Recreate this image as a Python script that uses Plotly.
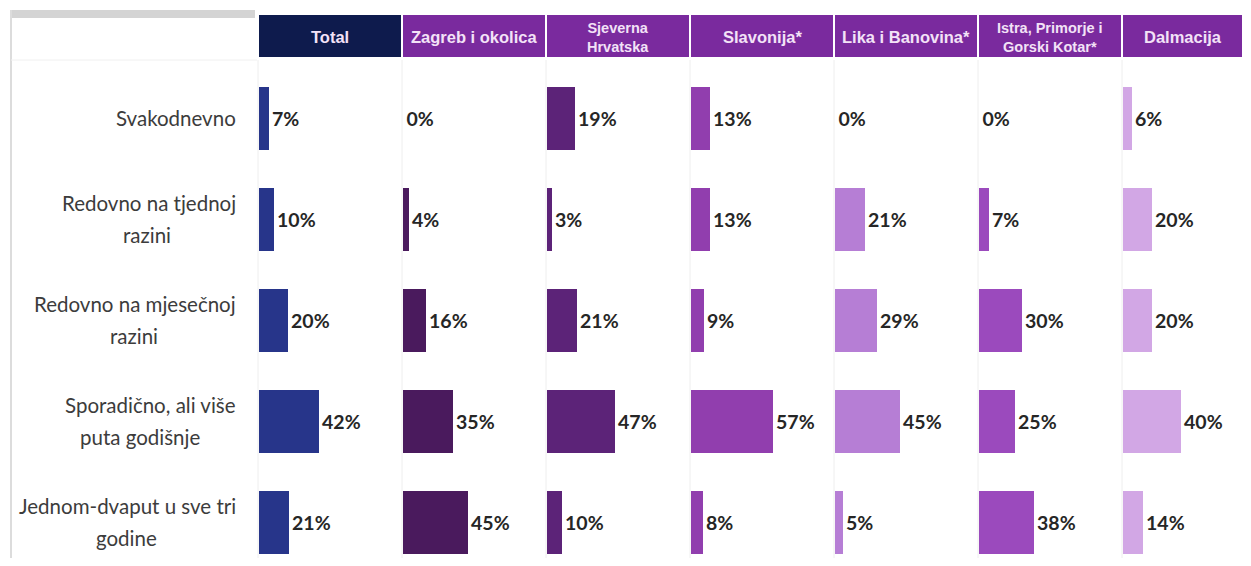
import plotly.graph_objects as go

# Page body has an 8px margin; figure is sized to fit inside the window.
OFF = 8
WIN_W, WIN_H = 1251, 566
FW, FH = WIN_W - 2 * OFF, WIN_H - 2 * OFF

categories = [
    "Svakodnevno",
    "Redovno na tjednoj<br>razini",
    "Redovno na mjesečnoj<br>razini",
    "Sporadično, ali više<br>puta godišnje",
    "Jednom-dvaput u sve tri<br>godine",
]
regions = ["Total", "Zagreb i okolica", "Sjeverna<br>Hrvatska", "Slavonija*",
           "Lika i Banovina*", "Istra, Primorje i<br>Gorski Kotar*", "Dalmacija"]

total = [7, 10, 20, 42, 21]
zagreb = [0, 4, 16, 35, 45]
sjeverna = [19, 3, 21, 47, 10]
slavonija = [13, 13, 9, 57, 8]
lika = [0, 21, 29, 45, 5]
istra = [0, 7, 30, 25, 38]
dalmacija = [6, 20, 20, 40, 14]

series = [total, zagreb, sjeverna, slavonija, lika, istra, dalmacija]
bar_colors = ["#27358a", "#4a1a5d", "#5c2378", "#913eae", "#b67ed5", "#9b4abd", "#d2a7e5"]
header_colors = ["#0e1b4d"] + ["#7a2a9e"] * 6


def px(x):
    return (x - OFF) / FW


def py(y):
    return 1 - (y - OFF) / FH


col_left = 258
col_w = 144
px_per_pct = 1.43

fig = go.Figure()
layout_axes = {}
ypos = list(range(len(categories)))

for i, vals in enumerate(series):
    x0 = col_left + i * col_w
    x1 = min(x0 + col_w, WIN_W - OFF)
    xname = "x" if i == 0 else f"x{i+1}"
    axkey = "xaxis" if i == 0 else f"xaxis{i+1}"
    fig.add_trace(go.Bar(
        x=vals, y=ypos, orientation="h",
        xaxis=xname, yaxis="y",
        width=0.63,
        marker=dict(color=bar_colors[i], line=dict(width=0)),
        text=[f"{v}%" for v in vals],
        textposition="outside",
        textfont=dict(family="Lato", size=19.5, color="#262626", weight="bold"),
        cliponaxis=False,
        showlegend=False,
        hoverinfo="skip",
    ))
    layout_axes[axkey] = dict(
        domain=[px(x0), px(x1)],
        range=[-1, -1 + (x1 - x0) / px_per_pct],
        visible=False, fixedrange=True, anchor="y",
    )

top_px = 67.5
row_px = 101
fig.update_layout(
    width=FW, height=FH,
    margin=dict(l=0, r=0, t=0, b=0),
    paper_bgcolor="white", plot_bgcolor="rgba(0,0,0,0)",
    yaxis=dict(domain=[0, py(top_px)],
               range=[-0.5 + (WIN_H - OFF - top_px) / row_px, -0.5],
               visible=False, fixedrange=True),
    bargap=0,
    **layout_axes,
)

shapes = []
annotations = []
# top gray strip and left border
shapes.append(dict(type="rect", xref="paper", yref="paper",
                   x0=px(10), x1=px(255), y0=py(18), y1=py(10),
                   fillcolor="#d4d4d4", line=dict(width=0), layer="below"))
shapes.append(dict(type="line", xref="paper", yref="paper",
                   x0=px(11), x1=px(11), y0=0, y1=py(10),
                   line=dict(color="#dcdcdc", width=2), layer="below"))
shapes.append(dict(type="line", xref="paper", yref="paper",
                   x0=px(11), x1=px(257), y0=py(60), y1=py(60),
                   line=dict(color="#f0f0f0", width=1), layer="below"))

# headers
for i, name in enumerate(regions):
    x0 = col_left + i * col_w
    x1 = min(x0 + col_w, WIN_W - OFF)
    shapes.append(dict(type="rect", xref="paper", yref="paper",
                       x0=px(x0 + 1), x1=px(x1 - 1),
                       y0=py(57), y1=py(15),
                       fillcolor=header_colors[i], line=dict(width=0)))
    shapes.append(dict(type="line", xref="paper", yref="paper",
                       x0=px(x0), x1=px(x0), y0=0, y1=py(60),
                       line=dict(color="#eeeeee", width=1), layer="below"))
    two = "<br>" in name
    annotations.append(dict(xref="paper", yref="paper",
                            x=px((x0 + x1) / 2), y=py(37),
                            text=f"<b>{name}</b>", showarrow=False,
                            xanchor="center", yanchor="middle", align="center",
                            font=dict(family="Liberation Sans", size=14.5 if two else 16.5,
                                      color="#f3e2f7")))

# category labels: first line right-aligned, second line centred under it
second_line_centre = [None, 147, 134, 140, 126]
line_half_gap = 0.16  # in row units (~16px)
for j, cat in enumerate(categories):
    lines = cat.split("<br>")
    if len(lines) == 1:
        annotations.append(dict(xref="paper", yref="y", x=px(238), y=j,
                                text=lines[0], showarrow=False,
                                xanchor="right", yanchor="middle",
                                font=dict(family="Lato", size=20.5, color="#3c3c3c")))
    else:
        annotations.append(dict(xref="paper", yref="y", x=px(238), y=j - line_half_gap,
                                text=lines[0], showarrow=False,
                                xanchor="right", yanchor="middle",
                                font=dict(family="Lato", size=20.5, color="#3c3c3c")))
        annotations.append(dict(xref="paper", yref="y", x=px(second_line_centre[j]),
                                y=j + line_half_gap,
                                text=lines[1], showarrow=False,
                                xanchor="center", yanchor="middle",
                                font=dict(family="Lato", size=20.5, color="#3c3c3c")))

fig.update_layout(shapes=shapes, annotations=annotations)
fig.write_html("out.html")
